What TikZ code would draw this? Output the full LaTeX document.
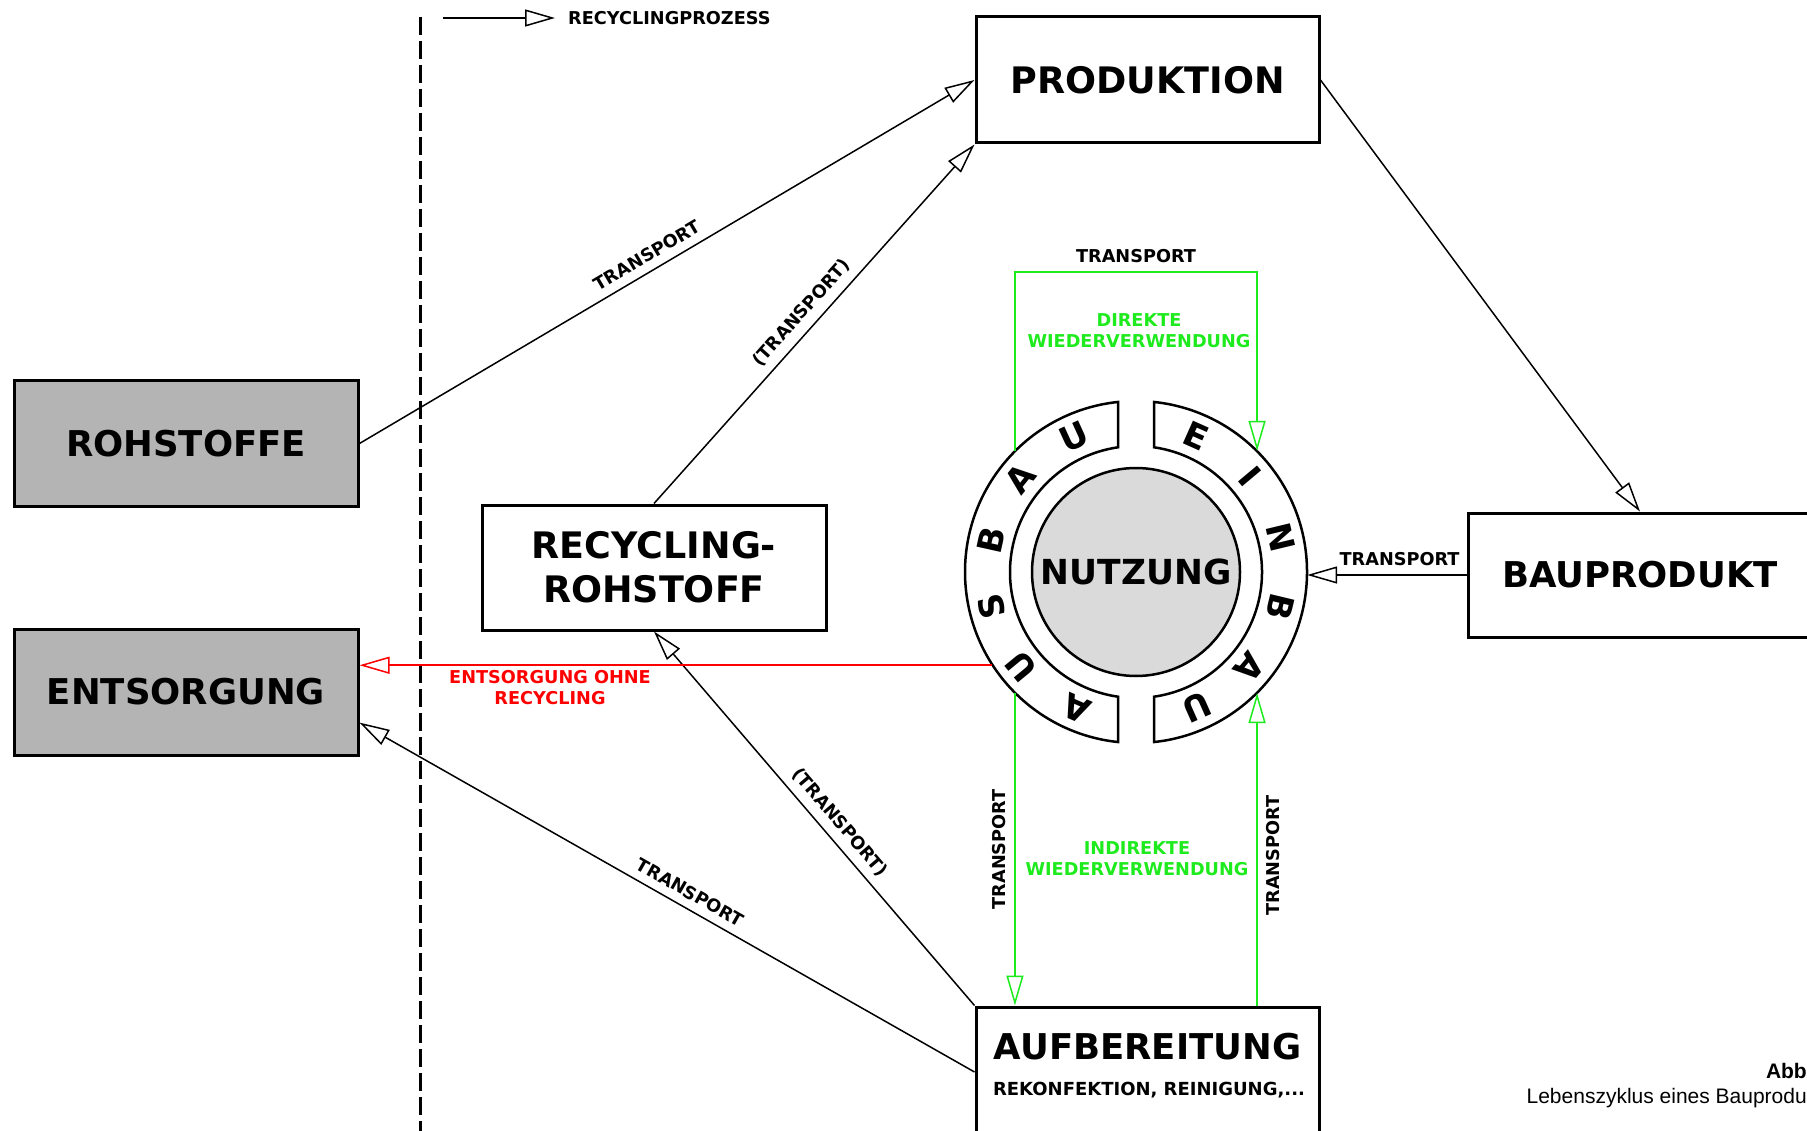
\documentclass[tikz,border=0pt]{standalone}
\usepackage{fontspec}
\setmainfont{DejaVu Sans}
\newfontfamily\capfont{Liberation Sans}
\usetikzlibrary{arrows.meta}
\definecolor{boxgray}{RGB}{180,180,180}
\definecolor{nutzgray}{RGB}{218,218,218}
\definecolor{lgreen}{RGB}{30,235,30}
\definecolor{lred}{RGB}{255,0,0}
\begin{document}
\begin{tikzpicture}[x=1pt,y=-1pt,
  box/.style={draw, line width=3pt, minimum width=344pt, minimum height=125pt, inner sep=0pt, align=center, font=\bfseries\fontsize{35.5}{44}\selectfont},
  graybox/.style={box, fill=boxgray},
  lbl/.style={font=\bfseries\fontsize{17.7}{21}\selectfont, inner sep=4pt, outer sep=5pt},
  greenlbl/.style={font=\bfseries\fontsize{17.7}{21}\selectfont, text=lgreen, align=center, inner sep=0pt},
  redlbl/.style={font=\bfseries\fontsize{17.7}{21}\selectfont, text=lred, align=center, inner sep=0pt},
  conn/.style={line width=1.5pt, -{Triangle[length=30pt,width=17pt,fill=white]}},
  connrev/.style={line width=1.5pt, {Triangle[length=30pt,width=17pt,fill=white]}-},
  greenconn/.style={conn, draw=lgreen},
  redconn/.style={conn, draw=lred},
  ringline/.style={draw, line width=2.5pt, fill=white},
  ringletter/.style={font=\bfseries\fontsize{34}{38}\selectfont, inner sep=0pt},
  dashline/.style={line width=3pt, dash pattern=on 18pt off 6pt}
]
\useasboundingbox (0,0) rectangle (1807,1131);
\fill[white] (0,0) rectangle (1807,1131);

% divider and legend
\coordinate (dtop) at (420,17);
\coordinate (dbot) at (420,1135);
\draw[dashline] (dtop) -- (dbot);
\coordinate (legstart) at (443,18);
\coordinate (legtip) at (555,18);
\node[font=\bfseries\fontsize{17.7}{21}\selectfont, anchor=west, inner sep=0pt] (legtxt) at (568,18) {RECYCLINGPROZESS};
\draw[conn] (legstart) -- (legtip);

% boxes
\node[graybox] (roh) at (186,443.5) {ROHSTOFFE};
\node[graybox, minimum height=126pt] (ent) at (186,692) {ENTSORGUNG};
\node[box, font=\bfseries\fontsize{36.5}{44}\selectfont] (rr) at (654,567.5) {RECYCLING-\\ROHSTOFF};
\node[box, minimum width=343pt, minimum height=126pt, font=\bfseries\fontsize{36.5}{44}\selectfont] (prod) at (1147.5,80) {PRODUKTION};
\node[box, minimum height=124pt] (bau) at (1640,575) {BAUPRODUKT};
\node[box, minimum width=343pt, minimum height=130pt] (auf) at (1147.5,1072) {};
\node[font=\bfseries\fontsize{35.5}{40}\selectfont, inner sep=0pt] (auft) at (1147.5,1047) {AUFBEREITUNG};
\node[font=\bfseries\fontsize{18}{22}\selectfont, inner sep=0pt] (aufs) at (1149,1090) {REKONFEKTION, REINIGUNG,...};

% ring and Nutzung
\node[circle, minimum size=342pt, inner sep=0pt] (ring) at (1136,572) {};
\begin{scope}[shift={(1136,572)}]
  \draw[ringline] (96.04:171pt) arc[start angle=96.04, end angle=263.96, radius=171pt]
     -- (261.79:126pt) arc[start angle=261.79, end angle=98.21, radius=126pt] -- cycle;
  \draw[ringline] (83.96:171pt) arc[start angle=83.96, end angle=-83.96, radius=171pt]
     -- (-81.79:126pt) arc[start angle=-81.79, end angle=81.79, radius=126pt] -- cycle;
  \foreach \a/\l [count=\i] in {246.5/A,219.5/U,193.5/S,167.5/B,141/A,114.5/U}
    \node[ringletter, rotate=\a-90] (aus\i) at (\a:148.5pt) {\l};
  \foreach \a/\l [count=\i] in {66/E,40/I,13.5/N,-13.5/B,-40/A,-66/U}
    \node[ringletter, rotate=\a-90] (ein\i) at (\a:148.5pt) {\l};
\end{scope}
\node[circle, draw, line width=2.5pt, fill=nutzgray, minimum size=208pt, inner sep=0pt, font=\bfseries\fontsize{34.5}{40}\selectfont] (nutz) at (1136,572) {NUTZUNG};

% black connectors
\draw[conn] (roh.east) -- node[lbl, sloped, above, pos=0.48] (l1) {TRANSPORT} (prod.west);
\draw[conn] (rr.north) -- node[lbl, sloped, above, pos=0.5] (l2) {(TRANSPORT)} (prod.south west);
\draw[conn] (prod.east) -- (bau.north);
\draw[conn] (bau.west) -- node[lbl, above, pos=0.42] (l4) {TRANSPORT} (bau.west -| ring.east);
\draw[connrev] (rr.south) -- node[lbl, sloped, above, pos=0.54] (l8) {(TRANSPORT)} (auf.north west);
\draw[connrev] (ent.-10) -- node[lbl, sloped, above, pos=0.525] (l9) {TRANSPORT} (auf.west);

% red
\draw[redconn] (ring.213) -- (ring.213 -| ent.east);
\node[redlbl] (r1) at (550,687.5) {ENTSORGUNG OHNE\\RECYCLING};

% green
\coordinate (gtop) at (1136,272);
\draw[greenconn] (ring.135) -- (ring.135 |- gtop) -- node[lbl, above] (g1) {TRANSPORT} (ring.45 |- gtop) -- (ring.45);
\node[greenlbl] (g2) at (1139,330.5) {DIREKTE\\WIEDERVERWENDUNG};
\draw[greenconn] (ring.225) -- node[lbl, rotate=90, anchor=south, pos=0.5] (g3) {TRANSPORT} (ring.225 |- auf.north);
\draw[greenconn] (ring.-45 |- auf.north) -- node[lbl, rotate=90, anchor=north, pos=0.48] (g4) {TRANSPORT} (ring.-45);
\node[greenlbl] (g5) at (1137,858.5) {INDIREKTE\\WIEDERVERWENDUNG};

% caption
\node[anchor=base east, inner sep=0pt, font=\capfont\bfseries\fontsize{21}{25}\selectfont] (cap1) at (1807,1078) {Abb};
\node[anchor=base east, inner sep=0pt, font=\capfont\fontsize{21}{25}\selectfont] (cap2) at (1807,1103) {Lebenszyklus eines Bauprodu};
\end{tikzpicture}
\end{document}
